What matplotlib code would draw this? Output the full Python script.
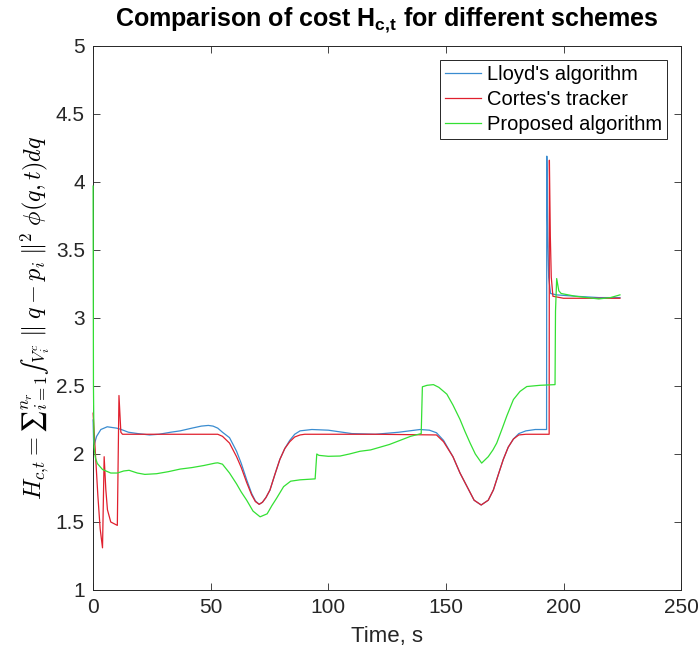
import numpy as np
import matplotlib.pyplot as plt

plt.rcParams['font.family'] = ['Liberation Sans', 'DejaVu Sans']
plt.rcParams['mathtext.fontset'] = 'custom'
plt.rcParams['mathtext.rm'] = 'Liberation Sans'
plt.rcParams['mathtext.bf'] = 'Liberation Sans:bold'

# Lloyd's algorithm
t_lloyd = [0, 0.2, 0.5, 1.5, 3.3, 6, 10, 12, 15, 19, 24, 28, 33, 37, 42, 46, 49, 51, 53,
           55, 58, 61, 63, 65.3, 67.4, 69, 70.6, 72, 73.5, 75.2, 77.3, 79.4, 81.5, 83.6,
           85.7, 88, 93, 100, 110, 120, 130, 139, 143, 146, 149, 153, 156, 159, 162, 165,
           168, 170.2, 172.5, 174.4, 176.5, 178.7, 181, 184, 188, 192.8, 192.9, 193.3,
           193.7, 194.5, 197, 205, 215, 224]
h_lloyd = [2.25, 2.1, 2.07, 2.13, 2.18, 2.2, 2.19, 2.18, 2.16, 2.15, 2.14, 2.145, 2.16,
           2.17, 2.19, 2.205, 2.21, 2.205, 2.19,
           2.16, 2.12, 2.02, 1.93, 1.81, 1.71, 1.655, 1.63, 1.645, 1.68, 1.735, 1.85, 1.96,
           2.04, 2.1, 2.145, 2.17, 2.18, 2.175, 2.15, 2.145, 2.16, 2.18, 2.175, 2.156,
           2.10, 1.98, 1.86, 1.76, 1.66, 1.625, 1.66, 1.736, 1.86, 1.96, 2.05, 2.11, 2.15,
           2.17, 2.18, 2.18, 4.19, 3.6, 3.3, 3.18, 3.17, 3.16, 3.15, 3.15]

# Cortes's tracker
t_cortes = [0, 1, 2, 3, 4.0, 4.7, 5.4, 6.1, 7.5, 10.3, 11.0, 11.8, 12.5, 30, 53,
            55, 58, 61, 63, 65.3, 67.4, 69, 70.6, 72, 73.5, 75.2, 77.3, 79.4, 81.5, 83.6,
            85.7, 88, 90, 120, 146, 149, 153, 156, 159, 162, 165, 168, 170.2, 172.5, 174.4,
            176.5, 178.7, 181, 184, 193.9, 194.0, 194.4, 194.8, 195.5, 200, 210, 224]
h_cortes = [2.3, 2.0, 1.7, 1.45, 1.31, 1.98, 1.74, 1.59, 1.50, 1.475, 2.43, 2.16, 2.145,
            2.145, 2.145,
            2.13, 2.08, 1.98, 1.90, 1.79, 1.70, 1.65, 1.63, 1.645, 1.68, 1.735, 1.85, 1.96,
            2.04, 2.09, 2.125, 2.14, 2.145, 2.145, 2.14, 2.09, 1.98, 1.86, 1.76, 1.66,
            1.625, 1.66, 1.736, 1.86, 1.96, 2.05, 2.11, 2.14, 2.145, 2.145, 4.16, 3.6,
            3.3, 3.16, 3.145, 3.145, 3.145]

# Proposed algorithm
t_prop = [0, 0.15, 0.4, 1, 1.8, 4, 7.5, 10.3, 13, 15.3, 18.8, 22, 27, 32, 37, 42, 47,
          51.9, 53, 55, 58, 61, 63, 65.3, 68, 71, 74, 76, 78, 81, 84, 88, 94.4, 95.1, 96,
          100, 105, 109, 113.5, 118, 122, 126, 130.5, 135, 139.5, 140, 142, 144.7, 147,
          150.4, 153, 156, 158, 160.3, 162.5, 165.2, 168, 170, 171.6, 174, 175.9, 178.7,
          181.5, 184.4, 190, 196.4, 196.6, 197.1, 198, 199, 205, 210, 215, 220, 224]
h_prop = [3.97, 2.5, 2.05, 1.97, 1.93, 1.886, 1.86, 1.86, 1.875, 1.88, 1.86, 1.85, 1.855,
          1.87, 1.889, 1.9, 1.915, 1.933, 1.935, 1.925, 1.86, 1.78, 1.72, 1.66, 1.58,
          1.538, 1.56, 1.62, 1.674, 1.76, 1.80, 1.81, 1.817, 2.0, 1.99, 1.983, 1.985,
          2.0, 2.02, 2.03, 2.05, 2.07, 2.10, 2.13, 2.15, 2.494, 2.505, 2.51, 2.49, 2.44,
          2.36, 2.254, 2.17, 2.08, 2.0, 1.933, 1.98, 2.03, 2.08, 2.19, 2.28, 2.40, 2.46,
          2.496, 2.505, 2.51, 3.05, 3.29, 3.2, 3.18, 3.16, 3.15, 3.14, 3.15, 3.17]

fig = plt.figure(figsize=(7, 6.57), dpi=100)
ax = fig.add_axes([0.133, 0.102, 0.84, 0.828])

ax.plot(t_lloyd, h_lloyd, color='#3a8cd0', lw=0.9, label="Lloyd's algorithm", zorder=3, clip_on=False)
ax.plot(t_cortes, h_cortes, color='#e0202e', lw=0.9, label="Cortes's tracker", zorder=3, clip_on=False)
ax.plot(t_prop, h_prop, color='#33e033', lw=0.9, label='Proposed algorithm', zorder=3, clip_on=False)

ax.set_xlim(0, 250)
ax.set_ylim(1, 5)
ax.set_xticks(np.arange(0, 251, 50))
ax.set_yticks(np.arange(1, 5.01, 0.5))
ax.set_yticklabels(['1', '1.5', '2', '2.5', '3', '3.5', '4', '4.5', '5'])
ax.tick_params(direction='in', top=True, right=True, length=5, width=0.6,
               labelsize=15, colors='#262626', pad=6)
for s in ax.spines.values():
    s.set_color('#262626')
    s.set_linewidth(0.7)

ax.set_xlabel('Time, s', fontsize=16, color='#262626', labelpad=6)
ax.set_ylabel(r'$H_{c{,}t} = {∑}_{i=1}^{n_r}{∫}_{V_i^c}\;\Vert\; q - p_i\;\Vert^2\;\phi(q,t)dq$',
              fontsize=17.5, math_fontfamily='cm', labelpad=3)
ax.set_title(r'Comparison of cost $\mathbf{H_{c{,}t}}$ for different schemes',
             fontsize=18, fontweight='bold', pad=14)

leg = ax.legend(loc='upper right', fontsize=14.5, handlelength=1.8, handletextpad=0.3,
                labelspacing=0.3, borderpad=0.25, borderaxespad=0.7, fancybox=False,
                framealpha=1, edgecolor='#262626')
leg.get_frame().set_linewidth(0.7)

fig.savefig('out.png', dpi=100)
